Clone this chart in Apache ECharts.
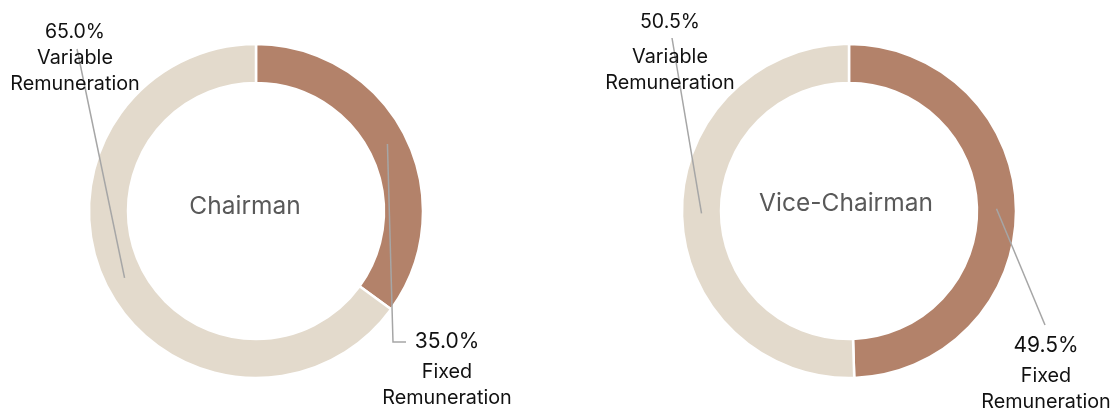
<!DOCTYPE html>
<html>
<head>
<meta charset="utf-8">
<script src="https://cdn.jsdelivr.net/npm/echarts@6/dist/echarts.min.js"></script>
<style>
  html, body { margin: 0; padding: 0; background: #ffffff; }
  #chart { width: 1116px; height: 410px; }
</style>
</head>
<body>
<div id="chart"></div>
<script>
// data
const segmentNames = ['Fixed Remuneration', 'Variable Remuneration'];
const panelTitles = ['Chairman', 'Vice-Chairman'];
const chairmanValues = [35.0, 65.0];
const viceChairmanValues = [49.5, 50.5];

const panelValues = [chairmanValues, viceChairmanValues];
const segmentColors = ['#B3826A', '#E3DACC'];

// donut geometry
const panelCenters = [[256, 211], [849, 211]];
const innerR = 128;
const outerR = 167;
const midR = (innerR + outerR) / 2;

// label spots: x = text centre, y = text top, tail = leader line points relative to (x, y)
const labelSpots = [
  [
    { x: 447, y: 325, pct: 'big', tail: [[-54, 17], [-41, 17]] },
    { x: 75, y: 19, pct: 'small', tail: [[2, 30], [2, 30]] }
  ],
  [
    { x: 1046, y: 329, pct: 'big', tail: [[-1, -4], [-1, -4]] },
    { x: 670, y: 0, pct: 'tall', tail: [[2, 38], [2, 38]] }
  ]
];

// point in the middle of the ring, at the middle angle of a slice
function ringAnchor(s, idx) {
  const values = panelValues[s];
  const total = values.reduce((a, b) => a + b, 0);
  let before = 0;
  for (let i = 0; i < idx; i++) before += values[i];
  const a = (before + values[idx] / 2) / total * Math.PI * 2;
  const c = panelCenters[s];
  return [c[0] + midR * Math.sin(a), c[1] - midR * Math.cos(a)];
}

const chart = echarts.init(document.getElementById('chart'));

// the rings
const ringSeries = panelValues.map((values, s) => ({
  type: 'pie',
  z: 2,
  center: panelCenters[s],
  radius: [innerR, outerR],
  startAngle: 90,
  clockwise: true,
  silent: true,
  itemStyle: { borderColor: '#ffffff', borderWidth: 2.5 },
  label: { show: false },
  labelLine: { show: false },
  data: values.map((v, i) => ({
    name: segmentNames[i],
    value: v,
    itemStyle: { color: segmentColors[i] }
  }))
}));

// same slices again, invisible, carrying the labels so the leader lines sit over the ring
const labelSeries = panelValues.map((values, s) => ({
  type: 'pie',
  z: 3,
  center: panelCenters[s],
  radius: [innerR, outerR],
  startAngle: 90,
  clockwise: true,
  avoidLabelOverlap: false,
  silent: true,
  itemStyle: { color: 'rgba(0,0,0,0)' },
  label: {
    show: true,
    position: 'outside',
    color: '#111111',
    fontFamily: 'Inter',
    formatter: (p) => {
      const spot = labelSpots[s][p.dataIndex];
      const lines = p.name.split(' ').map(w => '{name|' + w + '}');
      return '{' + spot.pct + '|' + p.value.toFixed(1) + '%}\n' + lines.join('\n');
    },
    rich: {
      big: { fontSize: 21, lineHeight: 34, fontFamily: 'Inter', color: '#111111' },
      small: { fontSize: 19.5, lineHeight: 26, fontFamily: 'Inter', color: '#111111' },
      tall: { fontSize: 19.5, lineHeight: 44, fontFamily: 'Inter', color: '#111111' },
      name: { fontSize: 19.8, lineHeight: 26, fontFamily: 'Inter', color: '#111111' }
    }
  },
  labelLine: {
    show: true,
    lineStyle: { color: '#A6A6A6', width: 1.5, opacity: 1 }
  },
  labelLayout: (params) => {
    const spot = labelSpots[s][params.dataIndex];
    const start = ringAnchor(s, params.dataIndex);
    const pts = [start].concat(spot.tail.map(t => [spot.x + t[0], spot.y + t[1]]));
    return {
      x: spot.x,
      y: spot.y,
      align: 'center',
      verticalAlign: 'top',
      labelLinePoints: pts
    };
  },
  data: values.map((v, i) => ({ name: segmentNames[i], value: v }))
}));

const titleSpots = [[245, 207], [846, 204]];

chart.setOption({
  backgroundColor: '#ffffff',
  animation: false,
  graphic: panelTitles.map((t, i) => ({
    type: 'text',
    x: titleSpots[i][0],
    y: titleSpots[i][1],
    style: {
      text: t,
      fontFamily: 'Inter',
      fontSize: 24.5,
      fill: '#595959',
      textAlign: 'center',
      textVerticalAlign: 'middle'
    }
  })),
  series: ringSeries.concat(labelSeries)
});
</script>
</body>
</html>
